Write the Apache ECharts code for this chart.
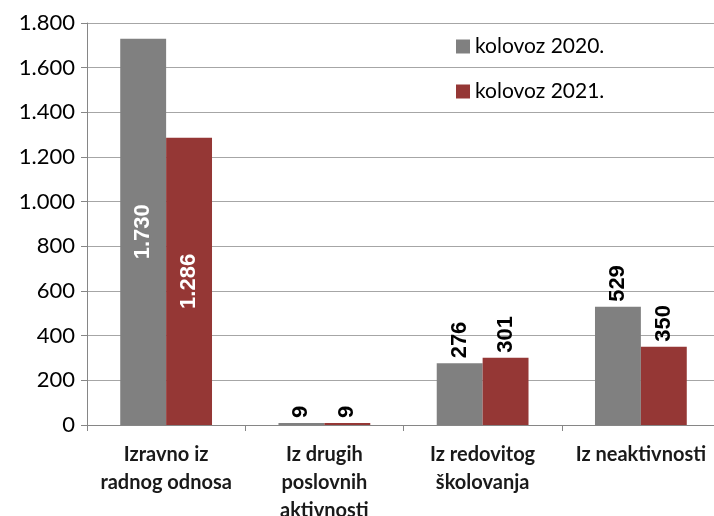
<!DOCTYPE html>
<html>
<head>
<meta charset="utf-8">
<script src="https://cdn.jsdelivr.net/npm/echarts@6/dist/echarts.min.js"></script>
<style>
  html, body { margin: 0; padding: 0; background: #fff; }
  #chart { width: 714px; height: 516px; }
</style>
</head>
<body>
<div id="chart"></div>
<script>
const categories = [
  'Izravno iz\nradnog odnosa',
  'Iz drugih\nposlovnih\naktivnosti',
  'Iz redovitog\nškolovanja',
  'Iz neaktivnosti',
]
const seriesNames = ['kolovoz 2020.', 'kolovoz 2021.']
const values2020 = [1730, 9, 276, 529]
const values2021 = [1286, 9, 301, 350]

// bars tall enough to hold the label inside (white), otherwise label on top
const INSIDE_MIN = 1000

const fmt = (v) => String(v).replace(/\B(?=(\d{3})+(?!\d))/g, '.')

function toData(values) {
  return values.map((v) => {
    const inside = v >= INSIDE_MIN
    return {
      value: v,
      label: inside
        ? { position: 'inside', color: '#ffffff', align: 'center', verticalAlign: 'middle' }
        : { position: 'top', color: '#000000', align: 'left', verticalAlign: 'middle', distance: 5 },
    }
  })
}

const labelBase = {
  show: true,
  rotate: 90,
  fontFamily: 'Liberation Sans, Arial, sans-serif',
  fontWeight: 'bold',
  fontSize: 22,
  formatter: (p) => fmt(p.value),
}

const chart = echarts.init(document.getElementById('chart'))
chart.setOption({
  animation: false,
  backgroundColor: '#ffffff',
  color: ['#808080', '#953735'],
  textStyle: { fontFamily: 'Lato, sans-serif' },
  grid: {
    left: 87, right: -6, top: 23, bottom: 91,
    containLabel: false,
    outerBoundsMode: 'none',
  },
  legend: {
    orient: 'vertical',
    left: 456,
    top: 36,
    padding: 0,
    itemWidth: 14,
    itemHeight: 14,
    itemGap: 24,
    icon: 'rect',
    textStyle: { fontSize: 21, color: '#000', fontFamily: 'Lato, sans-serif' },
    data: seriesNames,
  },
  xAxis: {
    type: 'category',
    data: categories,
    axisLine: { lineStyle: { color: '#868686', width: 1 } },
    axisTick: { show: true, alignWithLabel: false, length: 6, lineStyle: { color: '#868686' } },
    axisLabel: {
      interval: 0,
      margin: 16,
      color: '#1a1a1a',
      fontSize: 20,
      fontWeight: 'bold',
      lineHeight: 28,
      fontFamily: 'Lato, sans-serif',
    },
  },
  yAxis: {
    type: 'value',
    min: 0,
    max: 1800,
    interval: 200,
    axisLine: { show: true, lineStyle: { color: '#868686' } },
    axisTick: { show: true, inside: false, length: 6, lineStyle: { color: '#868686' } },
    splitLine: { lineStyle: { color: '#a6a6a6', width: 1 } },
    axisLabel: {
      color: '#000',
      fontSize: 22,
      margin: 12,
      fontFamily: 'Lato, sans-serif',
      formatter: fmt,
    },
  },
  series: [
    {
      name: seriesNames[0],
      type: 'bar',
      barCategoryGap: '42%',
      barGap: '0%',
      label: labelBase,
      data: toData(values2020),
    },
    {
      name: seriesNames[1],
      type: 'bar',
      barCategoryGap: '42%',
      barGap: '0%',
      label: labelBase,
      data: toData(values2021),
    },
  ],
})
</script>
</body>
</html>
